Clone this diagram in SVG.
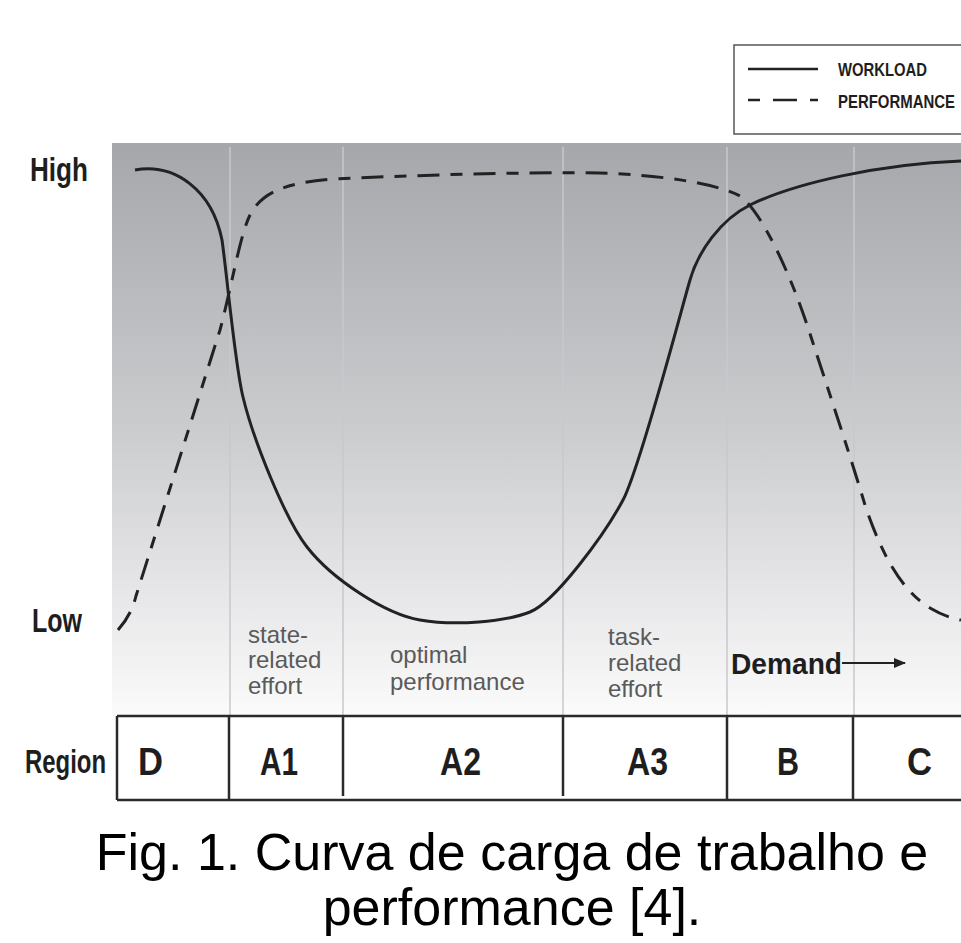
<svg xmlns="http://www.w3.org/2000/svg" width="961" height="943" viewBox="0 0 961 943">
<defs>
<linearGradient id="bg" x1="0" y1="0" x2="0" y2="1">
<stop offset="0" stop-color="#a6a7ab"/>
<stop offset="0.5" stop-color="#cbccce"/>
<stop offset="0.8" stop-color="#e8e8ea"/>
<stop offset="1" stop-color="#fbfbfb"/>
</linearGradient>
<marker id="arr" markerWidth="12" markerHeight="10" refX="11" refY="5" orient="auto" markerUnits="userSpaceOnUse">
<path d="M0,0 L12,5 L0,10 Z" fill="#222"/>
</marker>
</defs>
<style>
.bold{font-family:"Liberation Sans",Arial,sans-serif;font-weight:bold;fill:#1e1e1e}
.lab{font-family:"Liberation Sans",Arial,sans-serif;font-size:24px;fill:#5a5a5a}
.cap{font-family:"Liberation Sans",Arial,sans-serif;font-size:52px;fill:#000;text-anchor:middle}
.grid{stroke:#c9c9cc;stroke-width:1.5}
.tbl{stroke:#2a2a2a;stroke-width:2.5;fill:none}
.work{fill:none;stroke:#222;stroke-width:3}
.perf{fill:none;stroke:#222;stroke-width:3;stroke-dasharray:22 11 12 11}
</style>

<g id="background">
<rect x="112" y="143" width="849" height="573" fill="url(#bg)"/>
<line class="grid" x1="230" y1="147" x2="230" y2="716"/>
<line class="grid" x1="343" y1="147" x2="343" y2="716"/>
<line class="grid" x1="563" y1="147" x2="563" y2="716"/>
<line class="grid" x1="727" y1="147" x2="727" y2="716"/>
<line class="grid" x1="854" y1="147" x2="854" y2="716"/>
</g>

<g id="legend">
<rect x="734" y="45" width="240" height="89" fill="#fff" stroke="#555" stroke-width="1.5"/>
<line x1="748" y1="69" x2="818" y2="69" stroke="#222" stroke-width="2.5"/>
<path d="M748,100 H760 M773,100 H797 M810,100 H818" stroke="#222" stroke-width="2.5" fill="none"/>
<text class="bold" x="838" y="76" font-size="19" textLength="89" lengthAdjust="spacingAndGlyphs">WORKLOAD</text>
<text class="bold" x="838" y="108" font-size="19" textLength="117" lengthAdjust="spacingAndGlyphs">PERFORMANCE</text>
</g>

<g id="axis-labels">
<text class="bold" x="30" y="181" font-size="33" textLength="58" lengthAdjust="spacingAndGlyphs">High</text>
<text class="bold" x="32" y="632" font-size="33" textLength="50" lengthAdjust="spacingAndGlyphs">Low</text>
</g>

<g id="curves">
<path class="work" d="M135,170 C175,163 212,190 222,240 C227,275 235,365 243,397 C253,439 285,519 307,547 C332,579 385,614 420,620 C455,626 505,622 530,612 C555,602 605,534 623,500 C640,468 682,307 690,280 C698,252 720,220 750,205 C795,183 880,164 961,161"/>
<path class="perf" d="M118,630 C125,622 132,612 136,596 L220,330 C232,285 240,235 250,215 C262,192 285,183 333,179 C420,175 520,172 600,173 C660,175 715,183 740,196 C760,210 790,270 812,340 C830,395 850,455 865,505 C880,550 900,590 930,608 C940,614 950,618 961,620"/>
</g>

<g id="region-labels">
<text class="lab" x="248" y="643">state-</text>
<text class="lab" x="248" y="668">related</text>
<text class="lab" x="248" y="694">effort</text>
<text class="lab" x="390" y="663">optimal</text>
<text class="lab" x="390" y="690">performance</text>
<text class="lab" x="608" y="645">task-</text>
<text class="lab" x="608" y="671">related</text>
<text class="lab" x="608" y="697">effort</text>
</g>

<g id="demand">
<text class="bold" x="731" y="674" font-size="30" textLength="111" lengthAdjust="spacingAndGlyphs">Demand</text>
<line x1="842" y1="663" x2="905" y2="663" stroke="#222" stroke-width="2" marker-end="url(#arr)"/>
</g>

<g id="region-table">
<path class="tbl" d="M117,716 H961 M117,800 H961 M117,716 V800 M229,716 V800 M343,716 V796 M563,716 V796 M727,716 V800 M853,716 V800"/>
<text class="bold" x="25" y="773" font-size="34" textLength="81" lengthAdjust="spacingAndGlyphs">Region</text>
<text class="bold" x="138" y="775" font-size="39" textLength="25" lengthAdjust="spacingAndGlyphs">D</text>
<text class="bold" x="260" y="775" font-size="39" textLength="38" lengthAdjust="spacingAndGlyphs">A1</text>
<text class="bold" x="440" y="775" font-size="39" textLength="41" lengthAdjust="spacingAndGlyphs">A2</text>
<text class="bold" x="627" y="775" font-size="39" textLength="41" lengthAdjust="spacingAndGlyphs">A3</text>
<text class="bold" x="777" y="775" font-size="39" textLength="22" lengthAdjust="spacingAndGlyphs">B</text>
<text class="bold" x="907" y="775" font-size="39" textLength="25" lengthAdjust="spacingAndGlyphs">C</text>
</g>

<g id="caption">
<text class="cap" x="512" y="870">Fig. 1. Curva de carga de trabalho e</text>
<text class="cap" x="512" y="925">performance [4].</text>
</g>
</svg>
